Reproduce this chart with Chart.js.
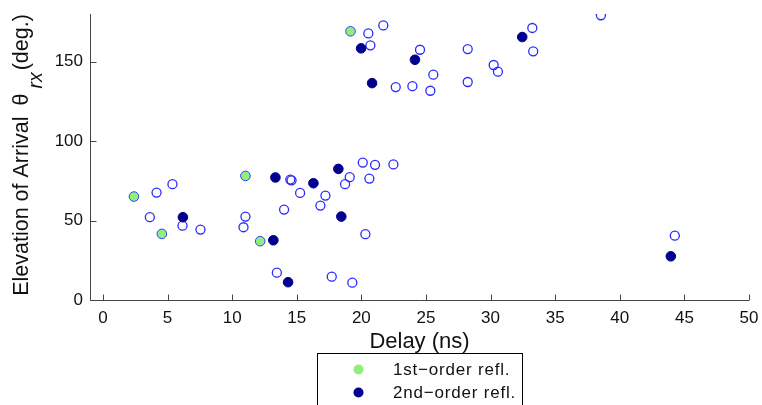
<!DOCTYPE html>
<html>
<head>
<meta charset="utf-8">
<script src="https://cdn.jsdelivr.net/npm/chart.js@4.4.1/dist/chart.umd.min.js"></script>
<style>
  html, body { margin: 0; padding: 0; background: #fff; }
  #wrap { width: 762px; height: 405px; }
</style>
</head>
<body>
<div id="wrap"><canvas id="chart"></canvas></div>
<script>
// delay (ns) and elevation (deg.) of each path
const firstDelay = [2.4, 4.56, 11.03, 12.17, 19.16];
const firstElev = [65.1, 41.6, 78.1, 37.0, 169.1];

const secondDelay = [6.19, 13.35, 13.19, 14.33, 16.29, 18.22, 18.45, 19.98, 20.83, 24.15, 32.45, 43.95];
const secondElev = [52.1, 77.1, 37.6, 11.2, 73.5, 82.5, 52.5, 158.4, 136.5, 151.2, 165.5, 27.5];

const otherDelay = [21.7, 20.54, 20.7, 38.54, 33.23, 33.3, 24.54, 28.23, 25.57, 30.24, 30.57, 22.66, 23.95,
    25.34, 28.23, 22.48, 4.15, 5.38, 3.63, 6.16, 7.55, 11.03, 10.88, 14.5, 14.6, 15.26, 14.02, 17.22,
    16.83, 19.1, 18.74, 20.11, 21.06, 20.62, 20.31, 13.46, 17.71, 19.3, 44.26];
const otherElev = [172.8, 167.8, 160.3, 179.2, 171.2, 156.5, 157.5, 157.9, 141.8, 147.9, 143.7, 134.0, 134.6,
    131.7, 137.2, 85.3, 67.6, 72.9, 52.1, 46.8, 44.3, 52.5, 45.8, 75.8, 75.3, 67.4, 56.9, 65.7,
    59.4, 77.3, 72.9, 86.5, 85.1, 76.4, 41.4, 17.2, 14.7, 10.9, 40.5];

const xTicks = [0, 5, 10, 15, 20, 25, 30, 35, 40, 45, 50];
const yTicks = [0, 50, 100, 150];

const FONT = "'Liberation Sans', Arial, sans-serif";
const TEXT = "#111";
const AXIS = "#444";

function toPoints(xs, ys) {
    return xs.map((x, i) => ({ x: x, y: ys[i] }));
}

// axis lines with inward tick marks, axis titles and the boxed legend
const decorations = {
    id: "decorations",
    beforeDatasetsDraw(chart) {
        const { ctx, chartArea, scales } = chart;
        const left = chartArea.left + 0.5;
        const bottom = chartArea.bottom + 0.5;
        ctx.save();
        ctx.strokeStyle = AXIS;
        ctx.lineWidth = 1;
        ctx.beginPath();
        ctx.moveTo(left, chartArea.top);
        ctx.lineTo(left, bottom);
        ctx.lineTo(chartArea.right, bottom);
        scales.x.ticks.forEach(t => {
            const px = Math.round(scales.x.getPixelForValue(t.value)) + 0.5;
            ctx.moveTo(px, bottom);
            ctx.lineTo(px, bottom - 6);
        });
        scales.y.ticks.forEach(t => {
            const py = Math.round(scales.y.getPixelForValue(t.value)) + 0.5;
            ctx.moveTo(left, py);
            ctx.lineTo(left + 6, py);
        });
        ctx.stroke();
        ctx.restore();
    },
    afterDraw(chart) {
        const { ctx, chartArea } = chart;
        ctx.save();
        ctx.fillStyle = TEXT;

        // x title
        ctx.font = "22px " + FONT;
        ctx.textAlign = "center";
        ctx.textBaseline = "alphabetic";
        ctx.fillText("Delay (ns)", (chartArea.left + chartArea.right) / 2, 348);

        // y title, rotated; the subscript sits well under the baseline
        const mainFont = "21.5px " + FONT;
        const subFont = "italic 19.5px " + FONT;
        const parts = [
            { text: "Elevation of Arrival", font: mainFont, dy: 0, gap: 11 },
            { text: "\u03b8", font: mainFont, dy: 0, gap: 5 },
            { text: "rx", font: subFont, dy: 14, gap: 2 },
            { text: "(deg.)", font: mainFont, dy: 0, gap: 0 }
        ];
        let total = 0;
        parts.forEach(p => {
            ctx.font = p.font;
            p.w = ctx.measureText(p.text).width;
            total += p.w + p.gap;
        });
        ctx.translate(28, 155);
        ctx.rotate(-Math.PI / 2);
        ctx.textAlign = "left";
        let pos = -total / 2;
        parts.forEach(p => {
            ctx.font = p.font;
            ctx.fillText(p.text, pos, p.dy);
            pos += p.w + p.gap;
        });
        ctx.setTransform(1, 0, 0, 1, 0, 0);

        // legend box (runs past the bottom edge)
        ctx.strokeStyle = "#000";
        ctx.lineWidth = 1;
        ctx.strokeRect(317.5, 353.5, 205, 80);
        ctx.font = "17px " + FONT;
        ctx.letterSpacing = "0.8px";
        ctx.textBaseline = "middle";
        chart.data.datasets.slice(0, 2).forEach((ds, i) => {
            const cy = 369.5 + i * 23;
            ctx.beginPath();
            ctx.arc(358.5, cy, 5, 0, Math.PI * 2);
            ctx.fillStyle = ds.backgroundColor;
            ctx.fill();
            ctx.fillStyle = TEXT;
            ctx.fillText(ds.label, 393, cy + 1);
        });
        ctx.restore();
    }
};

new Chart(document.getElementById("chart"), {
    type: "scatter",
    data: {
        datasets: [
            {
                label: "1st\u2212order refl.",
                data: toPoints(firstDelay, firstElev),
                backgroundColor: "#8ef07a",
                borderColor: "#3a3aff",
                borderWidth: 1,
                pointRadius: 4.8
            },
            {
                label: "2nd\u2212order refl.",
                data: toPoints(secondDelay, secondElev),
                backgroundColor: "#00008c",
                borderColor: "#00008c",
                borderWidth: 1,
                pointRadius: 4.8
            },
            {
                label: "other",
                data: toPoints(otherDelay, otherElev),
                backgroundColor: "rgba(0,0,0,0)",
                borderColor: "#2a2aff",
                borderWidth: 1.3,
                pointRadius: 4.5
            }
        ]
    },
    options: {
        responsive: true,
        maintainAspectRatio: false,
        animation: false,
        layout: { padding: { top: 14, right: 13, left: 0, bottom: 0 } },
        plugins: {
            legend: { display: false },
            tooltip: { enabled: false }
        },
        scales: {
            x: {
                type: "linear",
                min: -1,
                max: 50,
                grid: { display: false, drawTicks: false },
                border: { display: false },
                afterBuildTicks: scale => { scale.ticks = xTicks.map(v => ({ value: v })); },
                afterFit: scale => {
                    scale.height = 105;
                    scale.paddingLeft = 0;
                    scale.paddingRight = 0;
                },
                ticks: {
                    autoSkip: false,
                    maxRotation: 0,
                    padding: 8,
                    color: TEXT,
                    font: { family: FONT, size: 17 }
                }
            },
            y: {
                type: "linear",
                min: 0,
                max: 180,
                grid: { display: false, drawTicks: false },
                border: { display: false },
                afterBuildTicks: scale => { scale.ticks = yTicks.map(v => ({ value: v })); },
                afterFit: scale => {
                    scale.width = 90;
                    scale.paddingTop = 0;
                    scale.paddingBottom = 0;
                },
                ticks: {
                    autoSkip: false,
                    padding: 7,
                    color: TEXT,
                    font: { family: FONT, size: 17 }
                }
            }
        }
    },
    plugins: [decorations]
});
</script>
</body>
</html>
